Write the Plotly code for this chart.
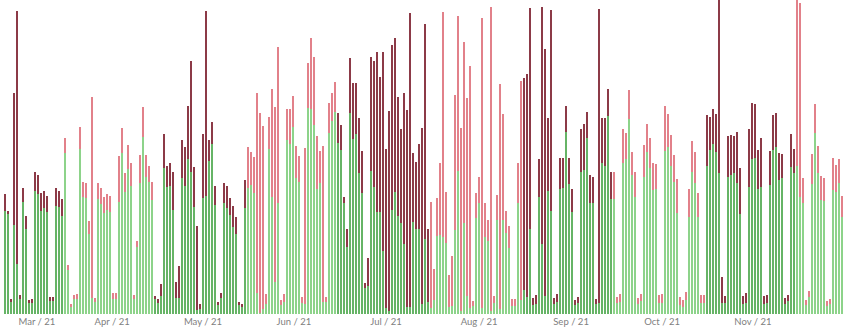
import pandas as pd
import plotly.graph_objects as go

# Daily values, 26 Feb 2021 onward (one bar per day)
start_day = "2021-02-26"

daily_total = [
    120, 103, 15, 221, 303, 19, 126, 98, 14, 15, 142, 139, 121, 123, 118, 17, 17, 126, 123, 115,
    176, 49, 10, 19, 20, 187, 132, 131, 93, 217, 16, 131, 126, 117, 120, 118, 21, 21, 158, 186,
    141, 169, 151, 19, 73, 159, 207,
    159, 148, 132, 18, 15, 30, 180, 148, 151, 142, 32, 48, 174, 167, 208, 253, 147, 88, 10, 180,
    303, 174, 192, 128, 12, 21, 131, 128, 116, 108, 97, 12, 10, 134, 167, 162, 157, 221, 201, 188,
    20, 197, 225, 207, 267, 14, 20,
    205, 205, 218, 168, 158, 17, 166, 251, 276, 257, 178, 163, 168, 17, 211, 221, 232, 201, 189, 117,
    85, 256, 231, 231, 196, 163, 31, 56, 257, 253, 262, 237, 262, 165, 203, 269, 276, 217, 185, 221,
    204, 301, 161, 152, 170, 186, 290,
    85, 112, 45, 116, 151, 302, 122, 39, 58, 219, 298, 186, 272, 216, 248, 13, 121, 137, 296, 111,
    94, 307, 18, 119, 230, 200, 103, 88, 15, 15, 151, 233, 236, 240, 306, 16, 19, 155, 307, 265,
    196, 304, 16, 20, 156, 156,
    208, 156, 125, 14, 17, 185, 190, 202, 139, 137, 15, 305, 196, 196, 225, 142, 142, 17, 20, 185,
    181, 224, 162, 142, 16, 20, 169, 190, 176, 151, 150, 19, 20, 208, 200, 179, 159, 135, 17, 14,
    22, 125, 173, 162, 121, 19, 19,
    199, 197, 205, 200, 320, 37, 18, 178, 179, 178, 182, 146, 18, 21, 185, 211, 210, 164, 176, 18,
    19, 163, 199, 201, 161, 160, 16, 19, 180, 165, 320, 311, 136, 14, 23, 160, 210, 168, 138, 136,
    13, 15, 156, 149, 155, 118,
]

daily_within = [
    103, 100, 12, 89, 50, 15, 112, 85, 11, 11, 123, 120, 103, 106, 102, 13, 13, 108, 107, 98,
    161, 44, 7, 15, 15, 165, 117, 116, 80, 16, 12, 115, 110, 101, 104, 102, 15, 15, 112, 161,
    122, 145, 128, 15, 67, 131, 177,
    137, 132, 114, 15, 11, 18, 146, 127, 128, 104, 16, 16, 136, 128, 155, 142, 107, 4, 5, 116,
    118, 153, 170, 109, 9, 16, 111, 106, 99, 87, 80, 9, 7, 106, 126, 129, 121, 21, 1, 5,
    10, 165, 117, 32, 111, 9, 12,
    174, 170, 187, 136, 132, 11, 10, 206, 205, 189, 125, 131, 12, 12, 181, 193, 202, 171, 164, 111,
    67, 201, 175, 180, 141, 121, 26, 28, 143, 127, 102, 102, 63, 6, 3, 104, 122, 98, 91, 70,
    7, 7, 92, 85, 85, 10, 75,
    12, 6, 14, 78, 79, 77, 71, 7, 8, 84, 143, 3, 91, 18, 6, 8, 96, 111, 6, 77,
    73, 3, 11, 94, 5, 94, 81, 66, 8, 8, 111, 14, 24, 17, 85, 9, 10, 117, 70, 18,
    123, 103, 10, 12, 125, 126,
    182, 130, 102, 9, 11, 142, 144, 176, 111, 111, 10, 11, 151, 148, 198, 115, 115, 11, 12, 151,
    155, 195, 139, 117, 10, 13, 137, 162, 146, 124, 125, 11, 11, 163, 167, 148, 132, 101, 9, 7,
    14, 97, 142, 131, 97, 11, 11,
    148, 164, 170, 162, 141, 11, 11, 137, 139, 141, 131, 100, 10, 11, 127, 155, 156, 125, 127, 10,
    11, 129, 164, 167, 134, 136, 10, 13, 147, 141, 148, 117, 111, 9, 17, 130, 181, 141, 114, 113,
    8, 10, 124, 122, 131, 97,
]

# Billing periods start around the 17th/18th; colours alternate per period
period_starts = ["2021-03-18", "2021-04-17", "2021-05-18", "2021-06-17", "2021-07-18",
                 "2021-08-18", "2021-09-17", "2021-10-18", "2021-11-17"]

tick_dates = ["2021-03-08 18:00", "2021-04-02 19:00", "2021-05-03 02:00", "2021-06-02 10:00",
              "2021-07-03 03:00", "2021-08-03 03:00", "2021-09-02 19:00", "2021-10-03 03:00",
              "2021-11-02 10:00"]
tick_text = ["Mar / 21", "Apr / 21", "May / 21", "Jun / 21", "Jul / 21",
             "Aug / 21", "Sep / 21", "Oct / 21", "Nov / 21"]

GREEN_A, GREEN_B = "#66b466", "#8dd38a"
RED_A, RED_B = "#8c3a47", "#e2818a"

days = pd.date_range(start_day, periods=len(daily_total), freq="D")
bounds = pd.to_datetime(period_starts)
period_idx = [int((bounds <= d).sum()) for d in days]
over = [t - w for t, w in zip(daily_total, daily_within)]

green_cols = [GREEN_A if p % 2 == 0 else GREEN_B for p in period_idx]
red_cols = [RED_A if p % 2 == 0 else RED_B for p in period_idx]

fig = go.Figure()
fig.add_trace(go.Bar(x=days, y=daily_within, marker=dict(color=green_cols, line_width=0),
                     hoverinfo="x+y"))
fig.add_trace(go.Bar(x=days, y=over, marker=dict(color=red_cols, line_width=0),
                     hoverinfo="x+y"))

x0 = days[0] - pd.Timedelta(hours=37.6)
x1 = x0 + pd.Timedelta(days=850 / 3.0)

fig.update_layout(
    width=850, height=335,
    margin=dict(l=0, r=0, t=0, b=21),
    barmode="stack", bargap=0.33,
    showlegend=False,
    plot_bgcolor="white", paper_bgcolor="white",
    xaxis=dict(type="date", range=[x0, x1], tickmode="array", tickvals=pd.to_datetime(tick_dates),
               ticktext=tick_text, showgrid=False, zeroline=False, showline=False, ticks="",
               tickfont=dict(family="Lato", size=9.5, color="#808080")),
    yaxis=dict(range=[0, 314], visible=False, showgrid=False),
)

fig.write_html("out.html")
